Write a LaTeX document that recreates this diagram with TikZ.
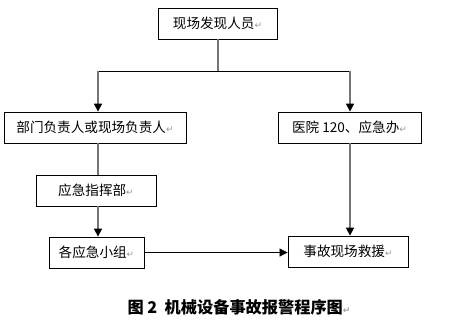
\documentclass[tikz,border=0pt]{standalone}
\usepackage{fontspec}
\usetikzlibrary{arrows.meta}
\newfontfamily\cjk{Noto Sans CJK SC}
\newfontfamily\symf{DejaVu Sans}
\newcommand{\pmark}{{\symf\color{gray!80}\fontsize{9}{9}\selectfont ↵}}
\tikzset{
  box/.style={draw=black, line width=0.8pt, minimum height=31pt, inner sep=0pt,
    font=\cjk\fontsize{13.6}{14}\selectfont},
  gline/.style={draw=gray!90!black, line width=1.6pt},
  garrow/.style={gline, -{Triangle[length=8pt,width=8pt,color=black]}},
  barrow/.style={draw=black, line width=0.7pt, -{Triangle[length=8pt,width=8pt,color=black]}},
  hline/.style={draw=black, line width=0.7pt}
}
\begin{document}
\begin{tikzpicture}[x=1pt,y=-1pt]
\useasboundingbox (0,0) rectangle (454,327);
\fill[white] (0,0) rectangle (454,327);
\node[box, minimum width=119pt] (b1) at (217.5,23.5) {现场发现人员\pmark};
\node[box, minimum width=182pt] (b2) at (95,127.5) {部门负责人或现场负责人\pmark};
\node[box, minimum width=143pt] (b3) at (349.5,127.5) {医院 120、应急办\pmark};
\node[box, minimum width=120pt] (b4) at (96,190.5) {应急指挥部\pmark};
\node[box, minimum width=95pt] (b5) at (96.5,252.5) {各应急小组\pmark};
\node[box, minimum width=120pt] (b6) at (348,251.5) {事故现场救援\pmark};
\coordinate (j) at (218,71);
\coordinate (jl) at (98,71);
\coordinate (jr) at (350,71);
\draw[gline] (b1.south -| j) -- (j);
\draw[hline] (jl) -- (jr);
\draw[garrow] (jl) -- (jl |- b2.north);
\draw[garrow] (jr) -- (jr |- b3.north);
\draw[gline] (jl |- b2.south) -- (jl |- b4.north);
\draw[garrow] (jl |- b4.south) -- (jl |- b5.north);
\draw[garrow] (jr |- b3.south) -- (jr |- b6.north);
\draw[barrow] (b5.east) -- (b5.east -| b6.west);
\node[font=\cjk\bfseries\fontsize{16.2}{17}\selectfont] (cap) at (239,307) {图 2\ \ 机械设备事故报警程序图\pmark};
\end{tikzpicture}
\end{document}
